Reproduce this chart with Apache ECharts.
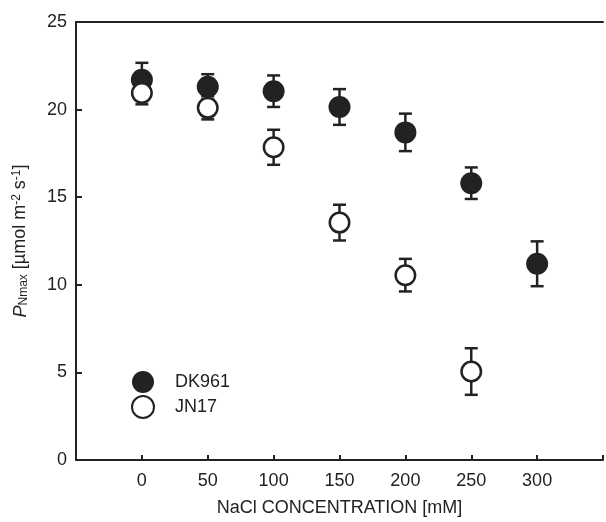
<!DOCTYPE html>
<html>
<head>
<meta charset="utf-8">
<script src="https://cdn.jsdelivr.net/npm/echarts@6/dist/echarts.min.js"></script>
<style>
  html, body { margin: 0; padding: 0; background: #fff; }
  #chart { width: 606px; height: 522px; }
</style>
</head>
<body>
<div id="chart"></div>
<script>
// NaCl concentration (mM)
const dkConc = [0, 50, 100, 150, 200, 250, 300];
const dkMean = [21.7, 21.3, 21.05, 20.15, 18.7, 15.8, 11.2];
const dkErr = [0.97, 0.72, 0.9, 1.02, 1.07, 0.9, 1.28];

const jnConc = [0, 50, 100, 150, 200, 250];
const jnMean = [20.95, 20.1, 17.85, 13.55, 10.55, 5.05];
const jnErr = [0.65, 0.66, 1.0, 1.02, 0.93, 1.33];

const xTicks = [0, 50, 100, 150, 200, 250, 300];

const ink = '#222';
const font = 'Liberation Sans, Arial, sans-serif';

function points(xs, ys) {
  return xs.map((x, i) => [x, ys[i]]);
}
function bars(xs, ys, es) {
  return xs.map((x, i) => [x, ys[i] - es[i], ys[i] + es[i]]);
}

function errorBar(params, api) {
  const lo = api.coord([api.value(0), api.value(1)]);
  const hi = api.coord([api.value(0), api.value(2)]);
  const cap = 6.5;
  const style = { stroke: ink, lineWidth: 2.5 };
  return {
    type: 'group',
    children: [
      { type: 'line', shape: { x1: lo[0], y1: lo[1], x2: hi[0], y2: hi[1] }, style },
      { type: 'line', shape: { x1: lo[0] - cap, y1: lo[1], x2: lo[0] + cap, y2: lo[1] }, style },
      { type: 'line', shape: { x1: hi[0] - cap, y1: hi[1], x2: hi[0] + cap, y2: hi[1] }, style },
    ],
  };
}

const chart = echarts.init(document.getElementById('chart'));
chart.setOption({
  animation: false,
  backgroundColor: '#fff',
  textStyle: { fontFamily: font, color: ink },
  grid: { left: 76, right: 0, top: 22, bottom: 58 },
  legend: {
    orient: 'vertical',
    left: 126,
    top: 366,
    itemWidth: 40,
    itemHeight: 22,
    itemGap: 2,
    textStyle: { fontSize: 18, color: ink, fontFamily: font, padding: [0, 0, 0, 7] },
    data: ['DK961', 'JN17'],
  },
  xAxis: [
    {
      type: 'value',
      min: -50,
      max: 350,
      interval: 50,
      name: 'NaCl CONCENTRATION [mM]',
      nameLocation: 'middle',
      nameGap: 39,
      nameTextStyle: { fontSize: 18, color: ink, fontFamily: font },
      axisLine: { onZero: false, lineStyle: { color: ink, width: 2 } },
      axisTick: { inside: true, length: 5, lineStyle: { color: ink, width: 2 } },
      axisLabel: {
        fontSize: 18,
        color: ink,
        margin: 12,
        formatter: (v) => (xTicks.includes(v) ? String(v) : ''),
      },
      splitLine: { show: false },
    },
    {
      type: 'value',
      position: 'top',
      min: -50,
      max: 350,
      axisLine: { onZero: false, lineStyle: { color: ink, width: 2 } },
      axisTick: { show: false },
      axisLabel: { show: false },
      splitLine: { show: false },
    },
  ],
  yAxis: {
    type: 'value',
    min: 0,
    max: 25,
    interval: 5,
    name: '{p|P}{sub|Nmax}{n| [µmol m}{sup|-2}{n| s}{sup|-1}{n|]}',
    nameLocation: 'middle',
    nameRotate: 90,
    nameGap: 46,
    nameTextStyle: {
      rich: {
        p: { fontSize: 18, fontStyle: 'italic', color: ink, fontFamily: font },
        n: { fontSize: 18, color: ink, fontFamily: font },
        sub: { fontSize: 12, color: ink, fontFamily: font, verticalAlign: 'bottom', padding: [7, 0, 0, 0] },
        sup: { fontSize: 12, color: ink, fontFamily: font, verticalAlign: 'top', padding: [0, 0, 7, 0] },
      },
    },
    axisLine: { onZero: false, lineStyle: { color: ink, width: 2 } },
    axisTick: { inside: true, length: 6, lineStyle: { color: ink, width: 2 } },
    axisLabel: { fontSize: 18, color: ink, margin: 9 },
    splitLine: { show: false },
  },
  series: [
    {
      name: 'DK961 err',
      type: 'custom',
      renderItem: errorBar,
      data: bars(dkConc, dkMean, dkErr),
      z: 1,
    },
    {
      name: 'JN17 err',
      type: 'custom',
      renderItem: errorBar,
      data: bars(jnConc, jnMean, jnErr),
      z: 1,
    },
    {
      name: 'DK961',
      type: 'scatter',
      symbol: 'circle',
      symbolSize: 22,
      itemStyle: { color: ink, opacity: 1 },
      data: points(dkConc, dkMean),
      z: 2,
    },
    {
      name: 'JN17',
      type: 'scatter',
      symbol: 'circle',
      symbolSize: 19.5,
      itemStyle: { color: '#fff', borderColor: ink, borderWidth: 2.5, opacity: 1 },
      data: points(jnConc, jnMean),
      z: 3,
    },
  ],
});
</script>
</body>
</html>
